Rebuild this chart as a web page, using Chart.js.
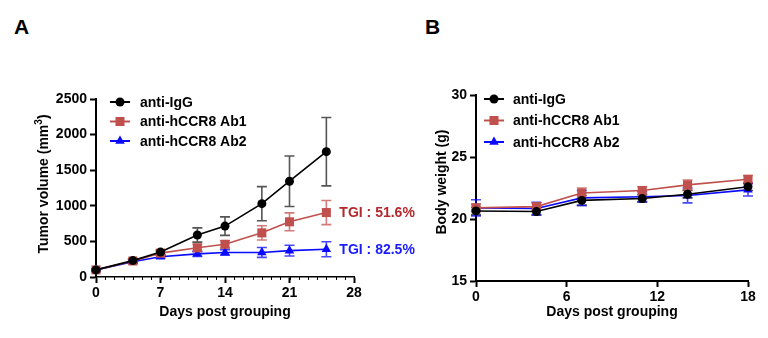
<!DOCTYPE html>
<html>
<head>
<meta charset="utf-8">
<title>Tumor volume and body weight</title>
<script src="https://cdn.jsdelivr.net/npm/chart.js@4.4.1/dist/chart.umd.min.js"></script>
<style>
  body { margin: 0; background: #fff; width: 768px; height: 338px; overflow: hidden; position: relative;
         font-family: "Liberation Sans", Arial, sans-serif; }
  .box { position: absolute; top: 0; height: 338px; }
  #boxA { left: 0; width: 430px; }
  #boxB { left: 384px; width: 384px; }
  .tag { position: absolute; top: 16px; font-weight: bold; font-size: 21px; line-height: 21px; }
</style>
</head>
<body>
<div class="tag" style="left:14px">A</div>
<div class="tag" style="left:425px">B</div>
<div class="box" id="boxA"><canvas id="chartA"></canvas></div>
<div class="box" id="boxB"><canvas id="chartB"></canvas></div>

<script>
// ---- tumor volume (panel A) ----
const tvDays = [0, 4, 7, 11, 14, 18, 21, 25];
const tvIgg = [100, 230, 350, 590, 715, 1030, 1345, 1760];
const tvIggErr = [15, 25, 30, 100, 130, 240, 355, 480];
const tvAb1 = [100, 225, 335, 410, 460, 620, 775, 905];
const tvAb1Err = [15, 25, 25, 50, 50, 100, 125, 170];
const tvAb2 = [100, 215, 285, 325, 345, 345, 370, 390];
const tvAb2Err = [10, 20, 20, 35, 40, 70, 75, 105];
const tgiLabels = ["", "TGI : 51.6%", "TGI : 82.5%"];

// ---- body weight (panel B) ----
const bwDays = [0, 4, 7, 11, 14, 18];
const bwIgg = [20.65, 20.6, 21.5, 21.65, 22.0, 22.6];
const bwIggErr = [0.3, 0.3, 0.4, 0.3, 0.3, 0.3];
const bwAb1 = [20.9, 21.0, 22.1, 22.3, 22.75, 23.2];
const bwAb1Err = [0.3, 0.3, 0.4, 0.3, 0.4, 0.3];
const bwAb2 = [20.9, 20.85, 21.7, 21.8, 21.9, 22.35];
const bwAb2Err = [0.65, 0.5, 0.6, 0.4, 0.6, 0.5];

const groupNames = ["anti-IgG", "anti-hCCR8 Ab1", "anti-hCCR8 Ab2"];

const FONT = "'Liberation Sans', Arial, sans-serif";
const BLACK = "#000000";
const RED = "#c0504d";
const BLUE = "#0a0aff";

const styles = [
  { color: BLACK, err: "#555555", pointStyle: "circle", radius: 4.5, tgi: BLACK },
  { color: RED, err: "rgba(192,80,77,0.75)", pointStyle: "rect", radius: 6.4, tgi: "#b3282d" },
  { color: BLUE, err: "rgba(10,10,255,0.75)", pointStyle: "triangle", radius: 5.5, tgi: "#1a1aff" },
];

function makeSets(days, series, errs) {
  return series.map((vals, i) => ({
    label: groupNames[i],
    data: days.map((d, k) => ({ x: d, y: vals[k] })),
    errorBars: errs[i],
    errorColor: styles[i].err,
    borderColor: styles[i].color,
    backgroundColor: styles[i].color,
    borderWidth: 1.6,
    pointStyle: styles[i].pointStyle,
    pointRadius: styles[i].radius,
    pointBorderWidth: 0,
    pointBackgroundColor: styles[i].color,
    tension: 0,
    clip: false,
  }));
}

// vertical SEM bars with caps, drawn behind the lines
const errorBarPlugin = {
  id: "errorBars",
  beforeDatasetsDraw(chart) {
    const ctx = chart.ctx;
    const ys = chart.scales.y;
    chart.data.datasets.forEach((ds, i) => {
      const meta = chart.getDatasetMeta(i);
      ctx.save();
      ctx.strokeStyle = ds.errorColor;
      ctx.lineWidth = 1.6;
      meta.data.forEach((pt, k) => {
        const v = ds.data[k].y, e = ds.errorBars[k];
        const top = ys.getPixelForValue(v + e);
        const bot = ys.getPixelForValue(v - e);
        ctx.beginPath();
        ctx.moveTo(pt.x, top); ctx.lineTo(pt.x, bot);
        ctx.moveTo(pt.x - 5, top); ctx.lineTo(pt.x + 5, top);
        ctx.moveTo(pt.x - 5, bot); ctx.lineTo(pt.x + 5, bot);
        ctx.stroke();
      });
      ctx.restore();
    });
  },
};

function drawMarker(ctx, style, radius, x, y) {
  ctx.beginPath();
  if (style === "circle") {
    ctx.arc(x, y, radius, 0, Math.PI * 2);
  } else if (style === "rect") {
    const s = Math.SQRT1_2 * radius;
    ctx.rect(x - s, y - s, 2 * s, 2 * s);
  } else {
    const h = radius * 1.5, w = radius * Math.sqrt(3) / 2;
    ctx.moveTo(x, y - radius);
    ctx.lineTo(x + w, y + h - radius);
    ctx.lineTo(x - w, y + h - radius);
    ctx.closePath();
  }
  ctx.fill();
}

// legend sitting inside the plot area, top-left
const insideLegendPlugin = {
  id: "insideLegend",
  afterDraw(chart, args, opts) {
    const ctx = chart.ctx;
    const area = chart.chartArea;
    ctx.save();
    ctx.font = "bold 14px " + FONT;
    ctx.textBaseline = "middle";
    chart.data.datasets.forEach((ds, i) => {
      const y = area.top + opts.y + i * opts.rowGap;
      const x0 = area.left + opts.x;
      const x1 = x0 + opts.lineLen;
      ctx.strokeStyle = ds.borderColor;
      ctx.lineWidth = 2;
      ctx.beginPath(); ctx.moveTo(x0, y); ctx.lineTo(x1, y); ctx.stroke();
      ctx.fillStyle = ds.borderColor;
      drawMarker(ctx, ds.pointStyle, ds.pointRadius, (x0 + x1) / 2, y);
      ctx.fillStyle = "#000";
      ctx.fillText(ds.label, x1 + opts.textGap, y + 1);
    });
    ctx.restore();
  },
};

// TGI note next to the last point of each treated group
const tgiPlugin = {
  id: "tgiNotes",
  afterDatasetsDraw(chart, args, opts) {
    if (!opts.labels) return;
    const ctx = chart.ctx;
    ctx.save();
    ctx.font = "bold 14px " + FONT;
    ctx.textBaseline = "middle";
    opts.labels.forEach((txt, i) => {
      if (!txt) return;
      const pts = chart.getDatasetMeta(i).data;
      const last = pts[pts.length - 1];
      ctx.fillStyle = styles[i].tgi;
      ctx.fillText(txt, last.x + 13, last.y + 1);
    });
    ctx.restore();
  },
};

// short unlabeled ticks for every day on the x axis
const minorTickPlugin = {
  id: "minorTicks",
  afterDraw(chart, args, opts) {
    if (!opts.step) return;
    const xs = chart.scales.x;
    const ctx = chart.ctx;
    ctx.save();
    ctx.strokeStyle = "#000";
    ctx.lineWidth = 1;
    for (let d = xs.min; d <= xs.max; d += opts.step) {
      const px = Math.round(xs.getPixelForValue(d)) + 0.5;
      ctx.beginPath();
      ctx.moveTo(px, xs.top);
      ctx.lineTo(px, xs.top + 3);
      ctx.stroke();
    }
    ctx.restore();
  },
};

// rotated y title, with optional superscript pieces
const yTitlePlugin = {
  id: "yTitle",
  afterDraw(chart, args, opts) {
    const ctx = chart.ctx;
    ctx.save();
    ctx.fillStyle = "#000";
    ctx.textBaseline = "alphabetic";
    let total = 0;
    opts.parts.forEach((p) => {
      ctx.font = "bold " + p.size + "px " + FONT;
      p.w = ctx.measureText(p.text).width;
      total += p.w;
    });
    ctx.translate(opts.cx, opts.cy);
    ctx.rotate(-Math.PI / 2);
    let x = -total / 2;
    opts.parts.forEach((p) => {
      ctx.font = "bold " + p.size + "px " + FONT;
      ctx.fillText(p.text, x, 5 - (p.rise || 0));
      x += p.w;
    });
    ctx.restore();
  },
};

const tickFont = { family: FONT, size: 14, weight: "bold" };

function axis(extra) {
  return Object.assign({
    type: "linear",
    grid: { display: true, drawOnChartArea: false, drawTicks: true, tickLength: 6, tickWidth: 2, tickColor: "#000" },
    border: { display: true, color: "#000", width: 2 },
  }, extra);
}

function buildChart(id, sets, cfg) {
  return new Chart(document.getElementById(id), {
    type: "line",
    data: { datasets: sets },
    plugins: [errorBarPlugin, insideLegendPlugin, tgiPlugin, minorTickPlugin, yTitlePlugin],
    options: {
      responsive: true,
      maintainAspectRatio: false,
      animation: false,
      layout: { padding: cfg.padding },
      plugins: {
        legend: { display: false },
        tooltip: { enabled: false },
        insideLegend: cfg.legend,
        tgiNotes: { labels: cfg.tgi },
        minorTicks: { step: cfg.minorStep },
        yTitle: cfg.yTitle,
      },
      scales: {
        x: axis({
          min: cfg.xMin, max: cfg.xMax,
          ticks: { color: "#000", font: tickFont, padding: 2, stepSize: cfg.xStep, callback: (v) => String(v) },
          border: { display: true, color: "#000", width: cfg.xBorder },
          title: { display: true, text: "Days post grouping", color: "#000",
                   font: tickFont, padding: { top: 2, bottom: 17 } },
          afterFit: (s) => { s.height = cfg.xHeight; },
        }),
        y: axis({
          min: cfg.yMin, max: cfg.yMax,
          ticks: { color: "#000", font: tickFont, padding: 3, stepSize: cfg.yStep, callback: (v) => String(v) },
          afterFit: (s) => { s.width = cfg.yWidth; },
        }),
      },
    },
  });
}

buildChart("chartA",
  makeSets(tvDays, [tvIgg, tvAb1, tvAb2], [tvIggErr, tvAb1Err, tvAb2Err]),
  {
    padding: { top: 99, right: 76, bottom: 0, left: 0 },
    xMin: 0, xMax: 28, xStep: 7, xBorder: 1.5, xHeight: 61, minorStep: 1,
    yMin: 0, yMax: 2500, yStep: 500, yWidth: 96,
    yTitle: { cx: 43, cy: 184, parts: [
      { text: "Tumor volume (mm", size: 14 },
      { text: "3", size: 10, rise: 6 },
      { text: ")", size: 14 },
    ] },
    legend: { x: 14, y: 3, lineLen: 20, textGap: 10, rowGap: 19.5 },
    tgi: tgiLabels,
  });

buildChart("chartB",
  makeSets(bwDays, [bwIgg, bwAb1, bwAb2], [bwIggErr, bwAb1Err, bwAb2Err]),
  {
    padding: { top: 95, right: 20, bottom: 0, left: 0 },
    xMin: 0, xMax: 18, xStep: 6, xBorder: 2, xHeight: 57, minorStep: 0,
    yMin: 15, yMax: 30, yStep: 5, yWidth: 92,
    yTitle: { cx: 57, cy: 182, parts: [{ text: "Body weight (g)", size: 14 }] },
    legend: { x: 8, y: 4, lineLen: 20, textGap: 9, rowGap: 21.5 },
    tgi: null,
  });
</script>
</body>
</html>
